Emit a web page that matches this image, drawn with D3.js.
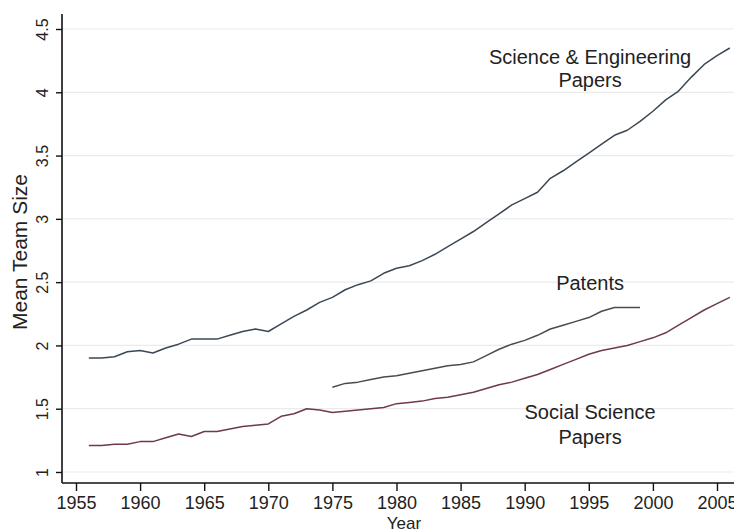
<!DOCTYPE html>
<html>
<head>
<meta charset="utf-8">
<script src="https://cdn.jsdelivr.net/npm/d3@7"></script>
<style>
  body { margin: 0; background: #fff; }
  text { font-family: "Liberation Sans", Arial, sans-serif; fill: #222; }
</style>
</head>
<body>
<svg id="chart" width="734" height="532"></svg>
<script>
// values (mean team size by year)
let seYears = d3.range(1956, 2007);
let seValues = [1.90, 1.90, 1.91, 1.95, 1.96, 1.94, 1.98, 2.01, 2.05, 2.05,
                2.05, 2.08, 2.11, 2.13, 2.11, 2.17, 2.23, 2.28, 2.34, 2.38,
                2.44, 2.48, 2.51, 2.57, 2.61, 2.63, 2.67, 2.72, 2.78, 2.84,
                2.90, 2.97, 3.04, 3.11, 3.16, 3.21, 3.32, 3.38, 3.45, 3.52,
                3.59, 3.66, 3.70, 3.77, 3.85, 3.94, 4.01, 4.12, 4.22, 4.29,
                4.35];

let patYears = d3.range(1975, 2000);
let patValues = [1.67, 1.70, 1.71, 1.73, 1.75, 1.76, 1.78, 1.80, 1.82, 1.84,
                 1.85, 1.87, 1.92, 1.97, 2.01, 2.04, 2.08, 2.13, 2.16, 2.19,
                 2.22, 2.27, 2.30, 2.30, 2.30];

let ssYears = d3.range(1956, 2007);
let ssValues = [1.21, 1.21, 1.22, 1.22, 1.24, 1.24, 1.27, 1.30, 1.28, 1.32,
                1.32, 1.34, 1.36, 1.37, 1.38, 1.44, 1.46, 1.50, 1.49, 1.47,
                1.48, 1.49, 1.50, 1.51, 1.54, 1.55, 1.56, 1.58, 1.59, 1.61,
                1.63, 1.66, 1.69, 1.71, 1.74, 1.77, 1.81, 1.85, 1.89, 1.93,
                1.96, 1.98, 2.00, 2.03, 2.06, 2.10, 2.16, 2.22, 2.28, 2.33,
                2.38];

let xTicks = [1955, 1960, 1965, 1970, 1975, 1980, 1985, 1990, 1995, 2000, 2005];
let yTicks = [1, 1.5, 2, 2.5, 3, 3.5, 4, 4.5];

let seriesNames = ['Science & Engineering Papers', 'Patents', 'Social Science Papers'];
let seriesColors = ['#3b4854', '#474d47', '#6e3a4a'];

// label text lines, anchored at (year, value)
let labelLines = [
  {text: 'Science & Engineering', year: 1995.1, value: 4.223},
  {text: 'Papers', year: 1995.1, value: 4.041},
  {text: 'Patents', year: 1995.1, value: 2.438},
  {text: 'Social Science', year: 1995.1, value: 1.419},
  {text: 'Papers', year: 1995.1, value: 1.221}
];

let svg = d3.select('#chart');
let W = 734, H = 532;
let axisX = 62, axisY = 483, plotTop = 14;

let xScale = d3.scaleLinear().domain([1955, 2005]).range([76, 717]);
let yScale = d3.scaleLinear().domain([1, 4.5]).range([472, 29]);

// gridlines
svg.append('g')
  .selectAll('line')
  .data(yTicks)
  .join('line')
  .attr('x1', axisX + 1)
  .attr('x2', W)
  .attr('y1', d => yScale(d))
  .attr('y2', d => yScale(d))
  .attr('stroke', '#ebebeb')
  .attr('stroke-width', 1.2);

// series
let series = [
  {years: seYears, values: seValues},
  {years: patYears, values: patValues},
  {years: ssYears, values: ssValues}
];

let line = d3.line()
  .x(d => xScale(d[0]))
  .y(d => yScale(d[1]));

svg.append('g')
  .selectAll('path')
  .data(series)
  .join('path')
  .attr('d', s => line(d3.zip(s.years, s.values)))
  .attr('fill', 'none')
  .attr('stroke', (s, i) => seriesColors[i])
  .attr('stroke-width', 1.5)
  .attr('stroke-linejoin', 'round');

// y axis
let yAxis = svg.append('g')
  .attr('transform', `translate(${axisX},0)`)
  .call(d3.axisLeft(yScale).tickValues(yTicks).tickSize(6).tickFormat(d3.format('')));
yAxis.select('.domain').remove();
yAxis.selectAll('.tick line').attr('stroke', '#111').attr('stroke-width', 1.4);
yAxis.selectAll('.tick text')
  .attr('x', null).attr('dy', null)
  .attr('transform', 'translate(-14,0) rotate(-90)')
  .attr('text-anchor', 'middle')
  .attr('font-size', 16)
  .attr('fill', '#222');
yAxis.append('line')
  .attr('x1', 0).attr('x2', 0)
  .attr('y1', plotTop).attr('y2', axisY)
  .attr('stroke', '#111').attr('stroke-width', 1.6);

// x axis
let xAxis = svg.append('g')
  .attr('transform', `translate(0,${axisY})`)
  .call(d3.axisBottom(xScale).tickValues(xTicks).tickSize(8).tickFormat(d3.format('d')));
xAxis.select('.domain').remove();
xAxis.selectAll('.tick line').attr('stroke', '#111').attr('stroke-width', 1.4);
xAxis.selectAll('.tick text')
  .attr('y', 26).attr('dy', null)
  .attr('font-size', 18)
  .attr('fill', '#222');
xAxis.append('line')
  .attr('x1', axisX).attr('x2', W)
  .attr('y1', 0).attr('y2', 0)
  .attr('stroke', '#111').attr('stroke-width', 1.6);

// axis titles
svg.append('text')
  .attr('x', 404)
  .attr('y', 529)
  .attr('text-anchor', 'middle')
  .attr('font-size', 17)
  .text('Year');

svg.append('text')
  .attr('transform', 'translate(27,252) rotate(-90)')
  .attr('text-anchor', 'middle')
  .attr('font-size', 21)
  .text('Mean Team Size');

// series labels
svg.append('g')
  .selectAll('text')
  .data(labelLines)
  .join('text')
  .attr('x', d => xScale(d.year))
  .attr('y', d => yScale(d.value))
  .attr('text-anchor', 'middle')
  .attr('font-size', 20)
  .text(d => d.text);
</script>
</body>
</html>
